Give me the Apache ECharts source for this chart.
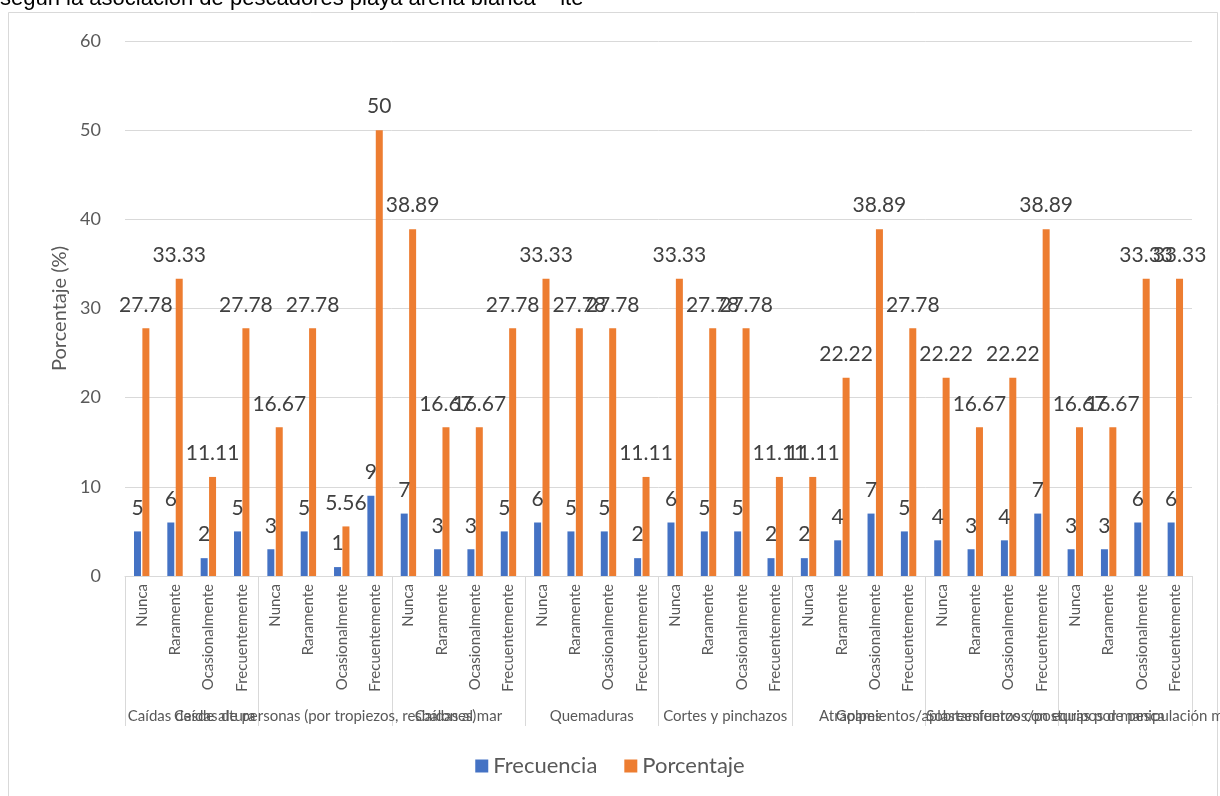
<!DOCTYPE html>
<html>
<head>
<meta charset="utf-8">
<script src="https://cdn.jsdelivr.net/npm/echarts@6/dist/echarts.min.js"></script>
<style>
  html, body { margin: 0; padding: 0; background: #ffffff; }
  #chart { width: 1220px; height: 796px; }
</style>
</head>
<body>
<div id="chart"></div>
<script>
// Frequency levels repeated for every risk group
const levels = ['Nunca', 'Raramente', 'Ocasionalmente', 'Frecuentemente'];

// Risk groups (second axis row)
const groups = [
  'Caídas desde altura',
  'Caídas de personas (por tropiezos, resbalones)',
  'Caídas al mar',
  'Quemaduras',
  'Cortes y pinchazos',
  'Golpes',
  'Atrapamientos/aplastamientos con equipos de pesca',
  'Sobreesfuerzos/posturas por manipulación manual de cargas'
];

// Number of fishermen per level, group by group
const frecuencia = [
  5, 6, 2, 5,
  3, 5, 1, 9,
  7, 3, 3, 5,
  6, 5, 5, 2,
  6, 5, 5, 2,
  2, 4, 7, 5,
  4, 3, 4, 7,
  3, 3, 6, 6
];

// Share of respondents (%) per level, group by group
const porcentaje = [
  27.78, 33.33, 11.11, 27.78,
  16.67, 27.78, 5.56, 50,
  38.89, 16.67, 16.67, 27.78,
  33.33, 27.78, 27.78, 11.11,
  33.33, 27.78, 27.78, 11.11,
  11.11, 22.22, 38.89, 27.78,
  22.22, 16.67, 22.22, 38.89,
  16.67, 16.67, 33.33, 33.33
];

const yTicks = { min: 0, max: 60, interval: 10 };

const titleText = 'según la asociación de pescadores playa arena blanca – ite';

// One category per (group, level) pair
const categories = [];
groups.forEach(function (g) {
  levels.forEach(function (l) { categories.push(l); });
});

const FONT = 'Lato';
const chart = echarts.init(document.getElementById('chart'), null, { renderer: 'canvas' });

const valueLabel = {
  show: true,
  position: 'top',
  distance: 13,
  fontFamily: FONT,
  fontSize: 21,
  color: '#404040'
};

chart.setOption({
  animation: false,
  backgroundColor: '#ffffff',
  textStyle: { fontFamily: FONT },
  graphic: [
    {
      type: 'rect',
      shape: { x: 8.5, y: 12.5, width: 1209, height: 800 },
      style: { fill: 'none', stroke: '#D9D9D9', lineWidth: 1 },
      silent: true
    },
    {
      type: 'text',
      x: 0,
      y: 10,
      style: {
        text: titleText,
        font: '22px "Liberation Sans", Arial, sans-serif',
        fill: '#000000',
        verticalAlign: 'bottom'
      },
      silent: true
    }
  ],
  grid: {
    left: 125, right: 28, top: 41, bottom: 220,
    containLabel: false,
    outerBoundsMode: 'none'
  },
  legend: {
    bottom: 14,
    left: 'center',
    icon: 'rect',
    itemWidth: 13,
    itemHeight: 13,
    itemGap: 27,
    textStyle: { fontFamily: FONT, fontSize: 22, color: '#595959' },
    data: ['Frecuencia', 'Porcentaje']
  },
  xAxis: [
    {
      type: 'category',
      data: categories,
      axisLine: { show: true, lineStyle: { color: '#D9D9D9', width: 1 } },
      axisTick: { show: false },
      axisLabel: {
        interval: 0,
        rotate: 90,
        margin: 8,
        fontFamily: FONT,
        fontSize: 15,
        color: '#595959'
      }
    },
    {
      type: 'category',
      position: 'bottom',
      offset: 0,
      data: groups,
      axisLine: { show: false },
      axisTick: {
        show: true,
        interval: 0,
        length: 150,
        lineStyle: { color: '#D9D9D9', width: 1 }
      },
      axisLabel: {
        interval: 0,
        margin: 133,
        fontFamily: FONT,
        fontSize: 15,
        color: '#595959'
      },
      splitLine: { show: false }
    }
  ],
  yAxis: {
    type: 'value',
    min: yTicks.min,
    max: yTicks.max,
    interval: yTicks.interval,
    name: 'Porcentaje (%)',
    nameLocation: 'middle',
    nameGap: 54,
    nameRotate: 90,
    nameTextStyle: { fontFamily: FONT, fontSize: 20, color: '#595959' },
    axisLine: { show: false },
    axisTick: { show: false },
    axisLabel: { margin: 24, fontFamily: FONT, fontSize: 18, color: '#595959' },
    splitLine: { lineStyle: { color: '#D9D9D9', width: 1 } }
  },
  series: [
    {
      name: 'Frecuencia',
      type: 'bar',
      data: frecuencia,
      barWidth: 7,
      barGap: '20%',
      itemStyle: { color: '#4472C4' },
      label: valueLabel
    },
    {
      name: 'Porcentaje',
      type: 'bar',
      data: porcentaje,
      barWidth: 7,
      barGap: '20%',
      itemStyle: { color: '#ED7D31' },
      label: valueLabel
    }
  ]
});
</script>
</body>
</html>
